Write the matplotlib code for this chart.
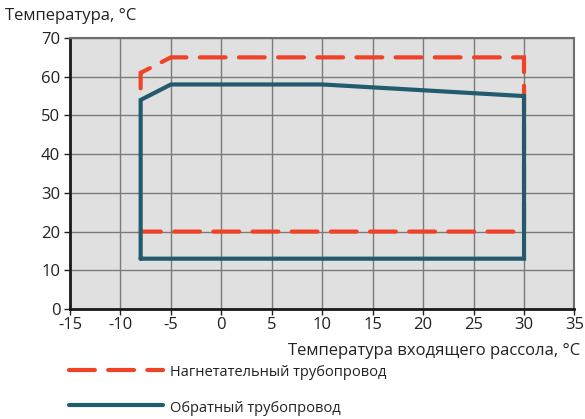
import matplotlib
matplotlib.use('Agg')
import matplotlib.pyplot as plt
from matplotlib.lines import Line2D

plt.rcParams['font.family'] = ['Open Sans', 'DejaVu Sans']
plt.rcParams['axes.unicode_minus'] = False

# supply line (red dashed) envelope
supply_x = [-8, -8, -5, 30, 30, -8]
supply_y = [57, 61, 65, 65, 20, 20]
# return line (blue solid) envelope
return_x = [-8, -8, -5, 10, 30, 30, -8]
return_y = [13, 54, 58, 58, 55, 13, 13]

x_ticks = list(range(-15, 40, 5))
y_ticks = list(range(0, 80, 10))

red = '#f04227'
blue = '#235a6d'

fig = plt.figure(figsize=(5.85, 4.19), dpi=100)
ax = fig.add_axes([0.1197, 0.2625, 0.8623, 0.6468])
ax.set_facecolor('#e0e0e0')

ax.plot(supply_x, supply_y, color=red, lw=3.0, dashes=(6.2, 3.2),
        dash_capstyle='round', dash_joinstyle='miter', zorder=3)
ax.plot(return_x, return_y, color=blue, lw=3.0, solid_joinstyle='miter',
        solid_capstyle='round', zorder=4)

ax.set_xlim(-15, 35)
ax.set_ylim(0, 70)
ax.set_xticks(x_ticks)
ax.set_yticks(y_ticks)
ax.grid(True, color='#7a7a7a', lw=1.0)
ax.set_axisbelow(True)
ax.tick_params(labelsize=12, colors='#222222', length=4, width=1)
ax.tick_params(axis='x', pad=2)
ax.tick_params(axis='y', pad=3)

for side in ['left', 'bottom']:
    ax.spines[side].set_color('#1a1a1a')
    ax.spines[side].set_linewidth(2.0)
for side in ['top', 'right']:
    ax.spines[side].set_color('#6e6e6e')
    ax.spines[side].set_linewidth(1.5)

fig.text(0.008, 0.962, 'Температура, °C', fontsize=12, color='#222222',
         ha='left', va='center')
fig.text(0.992, 0.162, 'Температура входящего рассола, °C', fontsize=12,
         color='#222222', ha='right', va='center')

# legend drawn manually below the axes
fig.add_artist(Line2D([0.118, 0.278], [0.118, 0.118], color=red, lw=3.0,
                      dashes=(6.2, 3.2), dash_capstyle='round'))
fig.add_artist(Line2D([0.118, 0.278], [0.033, 0.033], color=blue, lw=3.0,
                      solid_capstyle='round'))
fig.text(0.291, 0.110, 'Нагнетательный трубопровод', fontsize=10.5,
         color='#222222', ha='left', va='center')
fig.text(0.291, 0.026, 'Обратный трубопровод', fontsize=10.5,
         color='#222222', ha='left', va='center')

fig.savefig('out.png', dpi=100)
